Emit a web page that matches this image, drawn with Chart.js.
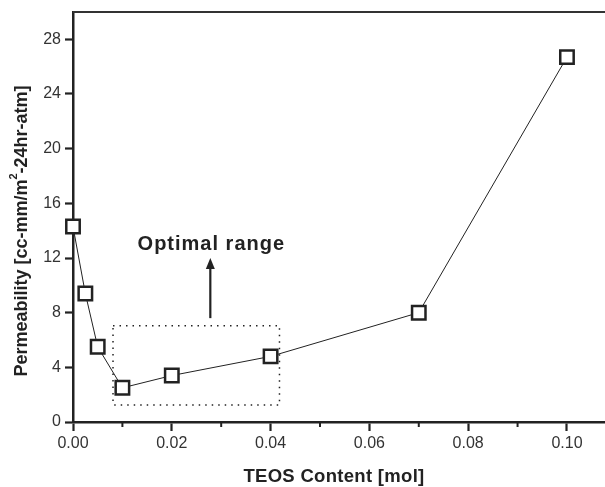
<!DOCTYPE html>
<html>
<head>
<meta charset="utf-8">
<script src="https://cdn.jsdelivr.net/npm/chart.js@4/dist/chart.umd.min.js"></script>
<style>
  html, body { margin: 0; padding: 0; background: #fff; }
  #wrap { width: 605px; height: 487px; }
</style>
</head>
<body>
<div id="wrap"><canvas id="myChart" width="605" height="487"></canvas></div>
<script>
  // data
  const teos = [0, 0.0025, 0.005, 0.01, 0.02, 0.04, 0.07, 0.10]
  const permeability = [14.3, 9.4, 5.5, 2.5, 3.4, 4.8, 8.0, 26.7]

  const x_ticks = [0, 0.01, 0.02, 0.03, 0.04, 0.05, 0.06, 0.07, 0.08, 0.09, 0.10]
  const y_ticks = [0, 4, 8, 12, 16, 20, 24, 28]

  const x_title = 'TEOS Content [mol]'
  const y_title = ['Permeability [cc-mm/m', '2', '-24hr-atm]']

  // optimal range box (data units) and the arrow / label above it
  const range_x = [0.0081, 0.0418]
  const range_y = [1.25, 7.05]
  const arrow_x = 0.0278
  const arrow_y = [7.6, 12.0]
  const label_text = 'Optimal range'
  const label_y = 13.0

  const ink = '#222'
  const font = '"Liberation Sans", Arial, sans-serif'
  const is_major = v => Math.round(v * 100) % 2 === 0

  const overlay = {
    id: 'overlay',
    afterDatasetsDraw(chart) {
      const ctx = chart.ctx
      const xs = chart.scales.x
      const ys = chart.scales.y
      const area = chart.chartArea

      ctx.save()
      // top frame line
      ctx.strokeStyle = '#333'
      ctx.lineWidth = 2
      ctx.beginPath()
      ctx.moveTo(area.left, area.top)
      ctx.lineTo(chart.width, area.top)
      ctx.stroke()

      // minor x ticks
      ctx.strokeStyle = ink
      ctx.lineWidth = 2
      x_ticks.filter(v => !is_major(v)).forEach(v => {
        const px = xs.getPixelForValue(v)
        ctx.beginPath()
        ctx.moveTo(px, area.bottom)
        ctx.lineTo(px, area.bottom + 5)
        ctx.stroke()
      })

      // dotted box
      const x0 = xs.getPixelForValue(range_x[0]), x1 = xs.getPixelForValue(range_x[1])
      const y0 = ys.getPixelForValue(range_y[0]), y1 = ys.getPixelForValue(range_y[1])
      ctx.lineWidth = 1.5
      ctx.setLineDash([1.5, 5])
      ctx.strokeRect(x0, y1, x1 - x0, y0 - y1)
      ctx.setLineDash([])

      // arrow
      const ax = xs.getPixelForValue(arrow_x)
      const ay0 = ys.getPixelForValue(arrow_y[0])
      const ay1 = ys.getPixelForValue(arrow_y[1])
      ctx.lineWidth = 2.2
      ctx.beginPath()
      ctx.moveTo(ax, ay0)
      ctx.lineTo(ax, ay1 + 8)
      ctx.stroke()
      ctx.fillStyle = ink
      ctx.beginPath()
      ctx.moveTo(ax, ay1)
      ctx.lineTo(ax - 4.5, ay1 + 11)
      ctx.lineTo(ax + 4.5, ay1 + 11)
      ctx.closePath()
      ctx.fill()

      // label
      ctx.font = `bold 20px ${font}`
      ctx.letterSpacing = '1px'
      ctx.textAlign = 'center'
      ctx.textBaseline = 'middle'
      ctx.fillText(label_text, ax + 1, ys.getPixelForValue(label_y))

      // x axis title
      ctx.font = `bold 18.5px ${font}`
      ctx.letterSpacing = '0.3px'
      ctx.fillText(x_title, 334, 477)

      // y axis title with superscript
      ctx.letterSpacing = '0px'
      ctx.translate(22, (85 + 377) / 2)
      ctx.rotate(-Math.PI / 2)
      ctx.textAlign = 'left'
      ctx.textBaseline = 'middle'
      const big = `bold 18px ${font}`, small = `bold 11px ${font}`
      ctx.font = big
      const w0 = ctx.measureText(y_title[0]).width
      const w2 = ctx.measureText(y_title[2]).width
      ctx.font = small
      const w1 = ctx.measureText(y_title[1]).width
      let cx = -(w0 + w1 + w2) / 2
      ctx.font = big
      ctx.fillText(y_title[0], cx, 0)
      cx += w0
      ctx.font = small
      ctx.fillText(y_title[1], cx, -8)
      cx += w1
      ctx.font = big
      ctx.fillText(y_title[2], cx, 0)
      ctx.restore()
    }
  }

  const config = {
    type: 'line',
    data: {
      datasets: [{
        data: teos.map((v, i) => ({x: v, y: permeability[i]})),
        borderColor: ink,
        borderWidth: 1,
        pointStyle: 'rect',
        pointRadius: 9.5,
        pointBorderWidth: 2.5,
        pointBorderColor: ink,
        pointBackgroundColor: '#fff',
        tension: 0,
        fill: false,
        clip: false,
      }]
    },
    options: {
      responsive: false,
      animation: false,
      layout: { autoPadding: false, padding: { top: 12, right: 0, left: 0, bottom: 0 } },
      plugins: {
        legend: { display: false },
        tooltip: { enabled: false },
      },
      scales: {
        x: {
          type: 'linear',
          min: 0,
          max: 0.1077,
          afterBuildTicks: s => { s.ticks = x_ticks.map(v => ({value: v})) },
          afterFit: s => { s.height = 65; s.paddingRight = 0; s.paddingLeft = 0 },
          border: { color: ink, width: 2.5 },
          grid: { drawOnChartArea: false, tickLength: 9,
                  tickColor: c => (is_major(c.tick.value) ? ink : 'rgba(0,0,0,0)'),
                  tickWidth: 2.2 },
          ticks: {
            color: '#333',
            padding: 3,
            maxRotation: 0,
            autoSkip: false,
            font: { family: font, size: 16 },
            callback: v => (is_major(v) ? v.toFixed(2) : ''),
          },
        },
        y: {
          min: 0,
          max: 30,
          afterBuildTicks: s => { s.ticks = y_ticks.map(v => ({value: v})) },
          afterFit: s => { s.width = 73; s.paddingTop = 0; s.paddingBottom = 0 },
          border: { color: ink, width: 2.5 },
          grid: { drawOnChartArea: false, tickLength: 8, tickColor: ink, tickWidth: 2.2 },
          ticks: {
            color: '#333',
            padding: 4,
            font: { family: font, size: 16 },
          },
        },
      },
    },
    plugins: [overlay],
  }

  const myChart = new Chart(document.getElementById('myChart'), config)
</script>
</body>
</html>
